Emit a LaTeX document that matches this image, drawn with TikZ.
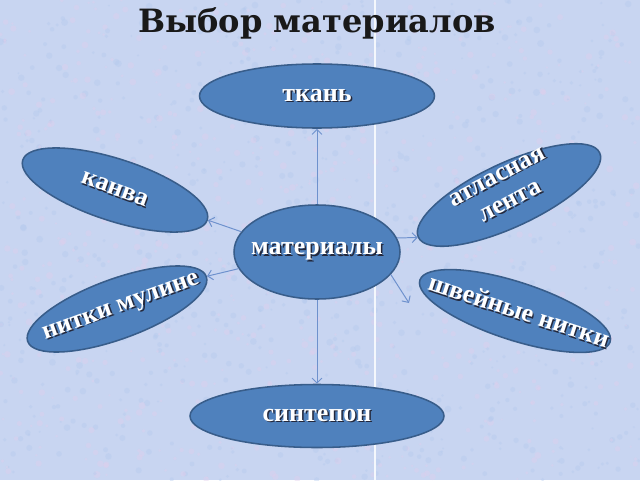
\documentclass[tikz,border=0pt]{standalone}
\usepackage{fontspec}
\setmainfont{Liberation Serif}
\newfontfamily\titlefont{DejaVu Serif}
\usetikzlibrary{shapes.geometric,arrows.meta}
\definecolor{bgc}{RGB}{200,213,241}
\definecolor{bgpink}{RGB}{224,206,236}
\definecolor{bgblue}{RGB}{180,202,238}
\definecolor{ellfill}{RGB}{79,129,189}
\definecolor{elldraw}{RGB}{56,93,138}
\definecolor{linkc}{RGB}{110,145,205}
\definecolor{shadc}{RGB}{35,40,60}
\newdimen\px \px=0.25mm
\newcommand{\shtxt}[1]{\leavevmode\rlap{\kern1.1pt\raisebox{-1.1pt}{\textcolor{shadc}{#1}}}#1}
\begin{document}
\begin{tikzpicture}[x=0.25mm,y=-0.25mm,
  blob/.style={ellipse, fill=ellfill, draw=elldraw, line width=1.1pt, inner sep=0pt},
  lbl/.style={text=white, font=\fontsize{18.5}{20}\selectfont\bfseries, align=center, inner sep=0pt},
  link/.style={draw=linkc, line width=0.7pt, -{Straight Barb[length=3.5pt,width=7pt]}},
  speck/.style={opacity=0.4}]
\fill[bgc] (0,0) rectangle (640,480);
\useasboundingbox (0,0) rectangle (640,480);
\pgfmathsetseed{7}
\foreach \i in {1,...,1600}{
  \pgfmathsetmacro{\xx}{640*rnd}
  \pgfmathsetmacro{\yy}{480*rnd}
  \pgfmathsetmacro{\rr}{1+2.5*rnd}
  \pgfmathsetmacro{\cc}{rnd}
  \ifdim\cc pt<0.5pt
    \fill[bgpink,speck] (\xx,\yy) circle[radius=\rr];
  \else
    \fill[bgblue,speck] (\xx,\yy) circle[radius=\rr];
  \fi
}
\draw[white!80!bgc, line width=0.8pt] (375,0) -- (375,480);
\node[font=\titlefont\fontsize{22.8}{26}\selectfont\bfseries, text=black!90] (title) at (317,23) {Выбор материалов};
% ellipses
\node[blob, minimum width=235\px, minimum height=64\px] (tkan) at (317,96) {};
\node[blob, minimum width=166\px, minimum height=94\px] (mat) at (317,252) {};
\node[blob, minimum width=254\px, minimum height=63\px] (sint) at (317,416) {};
\node[blob, minimum width=194\px, minimum height=62\px, rotate=-18] (kanva) at (115,190) {};
\node[blob, minimum width=200\px, minimum height=64\px, rotate=25] (lenta) at (509,195) {};
\node[blob, minimum width=190\px, minimum height=60\px, rotate=20] (nitki) at (117,309) {};
\node[blob, minimum width=200\px, minimum height=58\px, rotate=-18] (shv) at (515,311) {};
% labels
\node[lbl] (tkan-t) at (tkan.center) {\shtxt{ткань}};
\node[lbl] (mat-t) at (mat.center) {\shtxt{материалы}};
\node[lbl] (sint-t) at (sint.center) {\shtxt{синтепон}};
\node[lbl, rotate=-20] (kanva-t) at (kanva.center) {\shtxt{канва}};
\node[lbl, rotate=28] (lenta-t) at ([shift={(-5,-5)}]lenta.center) {\shtxt{атласная}\\\shtxt{лента}};
\node[lbl, rotate=20] (nitki-t) at ([shift={(5,0)}]nitki.center) {\shtxt{нитки мулине}};
\node[lbl, rotate=-18] (shv-t) at ([shift={(4,0)}]shv.center) {\shtxt{швейные нитки}};
% connectors
\coordinate (shvend) at (409,303);
\draw[link] (mat.north) -- (tkan.south);
\draw[link] (mat.165) -- (kanva.east);
\draw[link] (mat.10) -- (lenta.west);
\draw[link] (mat.192) -- (nitki.east);
\draw[link] (mat.343) -- (shvend);
\draw[link] (mat.south) -- (sint.north);
\end{tikzpicture}
\end{document}
